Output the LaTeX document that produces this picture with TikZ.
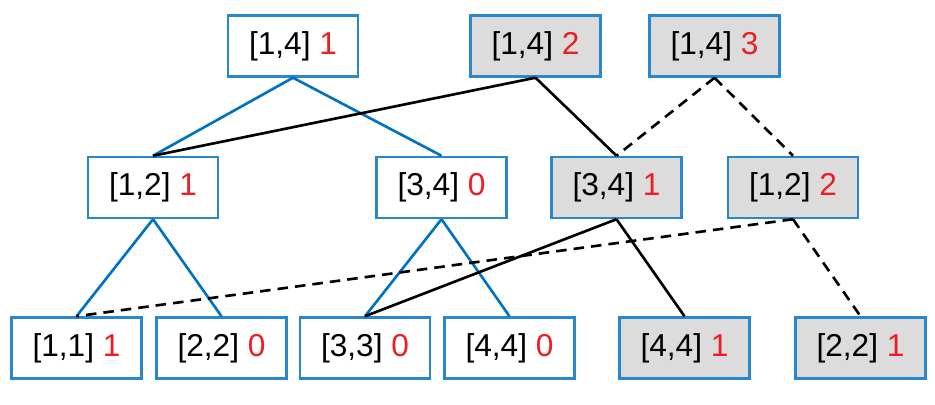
\documentclass[tikz,border=0pt]{standalone}
\usepackage{fontspec}
\setmainfont{Liberation Sans}
\usepackage{xcolor}
\definecolor{segborder}{RGB}{40,135,205}
\definecolor{segedge}{RGB}{0,114,196}
\definecolor{segfill}{RGB}{220,220,220}
\definecolor{segval}{RGB}{235,30,35}

\begin{document}
\begin{tikzpicture}[
    x=0.2cm, y=0.2cm,
    seg/.style={draw=segborder, rectangle, minimum width=2.6cm, minimum height=1.22cm, inner sep=0pt, line width=1.4pt, fill=white},
    newseg/.style={seg, fill=segfill},
    every node/.style={font=\fontsize{18}{20}\selectfont},
    oldline/.style={segedge, line width=1.5pt},
    newline/.style={black, line width=1.5pt},
    dashline/.style={black, line width=1.5pt, dash pattern=on 6pt off 4pt},
]
  \useasboundingbox (0,0) rectangle (93.5,40.5);
  % version 1
  \node[seg] (r1) at (29.3,35.9) {[1,4] \textcolor{segval}{1}};
  \node[seg] (a12) at (15.3,21.75) {[1,2] \textcolor{segval}{1}};
  \node[seg] (a34) at (44.15,21.75) {[3,4] \textcolor{segval}{0}};
  \node[seg] (a11) at (7.65,5.7) {[1,1] \textcolor{segval}{1}};
  \node[seg] (a22) at (22.15,5.7) {[2,2] \textcolor{segval}{0}};
  \node[seg] (a33) at (36.5,5.7) {[3,3] \textcolor{segval}{0}};
  \node[seg] (a44) at (50.95,5.7) {[4,4] \textcolor{segval}{0}};
  % version 2
  \node[newseg] (r2) at (53.55,35.9) {[1,4] \textcolor{segval}{2}};
  \node[newseg] (b34) at (61.65,21.75) {[3,4] \textcolor{segval}{1}};
  \node[newseg] (b44) at (68.45,5.7) {[4,4] \textcolor{segval}{1}};
  % version 3
  \node[newseg] (r3) at (71.45,35.9) {[1,4] \textcolor{segval}{3}};
  \node[newseg] (c12) at (79.3,21.75) {[1,2] \textcolor{segval}{2}};
  \node[newseg] (c22) at (86.05,5.7) {[2,2] \textcolor{segval}{1}};
  % edges
  \draw[oldline] (r1.south) -- (a12.north);
  \draw[oldline] (r1.south) -- (a34.north);
  \draw[oldline] (a12.south) -- (a11.north);
  \draw[oldline] (a12.south) -- (a22.north);
  \draw[oldline] (a34.south) -- (a33.north);
  \draw[oldline] (a34.south) -- (a44.north);
  \draw[newline] (r2.south) -- (a12.north);
  \draw[newline] (r2.south) -- (b34.north);
  \draw[newline] (b34.south) -- (a33.north);
  \draw[newline] (b34.south) -- (b44.north);
  \draw[dashline] (r3.south) -- (b34.north);
  \draw[dashline] (r3.south) -- (c12.north);
  \draw[dashline] (c12.south) -- (a11.north);
  \draw[dashline] (c12.south) -- (c22.north);
\end{tikzpicture}
\end{document}
